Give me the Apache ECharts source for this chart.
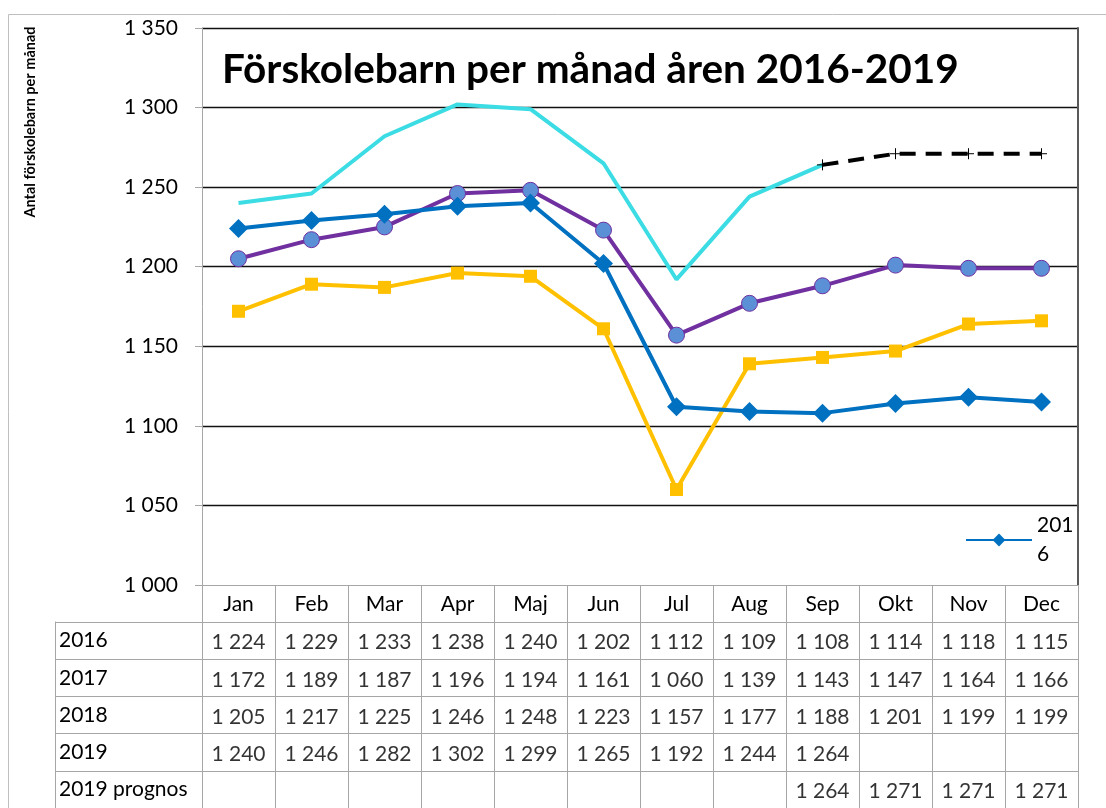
<!DOCTYPE html>
<html><head><meta charset="utf-8">
<script src="https://cdn.jsdelivr.net/npm/echarts@6/dist/echarts.min.js"></script>
<style>html,body{margin:0;padding:0;background:#fff}#c{width:1106px;height:808px}</style>
</head><body><div id="c"></div>
<script>
const months = ['Jan','Feb','Mar','Apr','Maj','Jun','Jul','Aug','Sep','Okt','Nov','Dec'];
const rowNames = ['2016','2017','2018','2019','2019 prognos'];
const s2016 = [1224,1229,1233,1238,1240,1202,1112,1109,1108,1114,1118,1115];
const s2017 = [1172,1189,1187,1196,1194,1161,1060,1139,1143,1147,1164,1166];
const s2018 = [1205,1217,1225,1246,1248,1223,1157,1177,1188,1201,1199,1199];
const s2019 = [1240,1246,1282,1302,1299,1265,1192,1244,1264,null,null,null];
const sProg = [null,null,null,null,null,null,null,null,1264,1271,1271,1271];
const yTicks = [1000,1050,1100,1150,1200,1250,1300,1350];
const titleText = 'Förskolebarn per månad åren 2016-2019';
const yTitle = 'Antal förskolebarn per månad';

const FONT = 'Lato';
const fmt = v => (v == null ? '' : Math.floor(v/1000) + ' ' + String(v % 1000).padStart(3,'0'));
const allRows = [s2016, s2017, s2018, s2019, sProg];
const cells = [];
allRows.forEach((arr, r) => arr.forEach((v, i) => { if (v != null) cells.push([i, r, fmt(v)]); }));

const GRID_L = 202, GRID_R = 28;
const chart = echarts.init(document.getElementById('c'));
chart.setOption({
  animation: false,
  textStyle: { fontFamily: FONT },
  title: { text: titleText, left: 217, top: 44,
    textStyle: { fontFamily: FONT, fontWeight: 'bold', fontSize: 40.5, color: '#000' } },
  legend: { data: ['2016'], left: 960, top: 506, itemWidth: 66, itemHeight: 16, itemGap: 4,
    formatter: () => '201\n6',
    textStyle: { fontFamily: FONT, fontSize: 21, color: '#000', lineHeight: 29 } },
  graphic: [
    { type: 'rect', shape: { x: 8.5, y: 14.5, width: 1200, height: 900 }, silent: true, z: -10,
      style: { fill: 'none', stroke: '#bfbfbf', lineWidth: 1 } },
    { type: 'text', x: 30, y: 122, rotation: Math.PI/2, silent: true,
      style: { text: yTitle, fontFamily: FONT, fontWeight: 'bold', fontSize: 14.5, fill: '#000',
        align: 'center', verticalAlign: 'middle' } }
  ],
  grid: [
    { left: GRID_L, right: GRID_R, top: 28, height: 557 },
    { left: GRID_L, right: GRID_R, top: 622, height: 190 }
  ],
  xAxis: [
    { type: 'category', gridIndex: 0, data: months, boundaryGap: true,
      axisLine: { show: true, lineStyle: { color: '#a6a6a6', width: 1 } },
      axisTick: { show: false }, axisLabel: { show: false }, splitLine: { show: false } },
    { type: 'category', gridIndex: 1, data: months, position: 'top', boundaryGap: true,
      axisLine: { show: true, lineStyle: { color: '#a6a6a6', width: 1 } },
      axisTick: { show: true, interval: 0, length: 37, lineStyle: { color: '#a6a6a6' } },
      axisLabel: { interval: 0, margin: 7, fontFamily: FONT, fontSize: 21, color: '#000' },
      splitLine: { show: true, interval: 0, lineStyle: { color: '#a6a6a6', width: 1 } } }
  ],
  yAxis: [
    { type: 'value', gridIndex: 0, min: 1000, max: 1350, interval: 50,
      axisLine: { show: true, lineStyle: { color: '#a6a6a6', width: 1 } },
      axisTick: { show: true, length: 7, lineStyle: { color: '#a6a6a6' } },
      axisLabel: { margin: 24, fontFamily: FONT, fontSize: 21, color: '#000', formatter: v => fmt(v) },
      splitLine: { show: true, showMinLine: false, lineStyle: { color: '#111', width: 1.3 } } },
    { type: 'value', gridIndex: 0, position: 'right', min: 1000, max: 1350, interval: 50,
      axisLine: { show: true, lineStyle: { color: '#595959', width: 2 } },
      axisTick: { show: false }, axisLabel: { show: false }, splitLine: { show: false } },
    { type: 'category', gridIndex: 1, data: rowNames, inverse: true, offset: 147,
      axisLine: { show: true, lineStyle: { color: '#a6a6a6', width: 1 } },
      axisTick: { show: true, inside: true, interval: 0, length: 147, lineStyle: { color: '#a6a6a6' } },
      axisLabel: { interval: 0, align: 'left', margin: -4, fontFamily: FONT, fontSize: 21, color: '#000',
        padding: [4, 0, 0, 0] },
      splitLine: { show: true, interval: 0, lineStyle: { color: '#a6a6a6', width: 1 } } }
  ],
  series: [
    { name: '2016', type: 'line', xAxisIndex: 0, yAxisIndex: 0, data: s2016,
      symbol: 'diamond', symbolSize: 19, lineStyle: { color: '#0070C0', width: 4 },
      itemStyle: { color: '#0070C0' }, z: 5 },
    { name: '2017', type: 'line', xAxisIndex: 0, yAxisIndex: 0, data: s2017,
      symbol: 'rect', symbolSize: 13, lineStyle: { color: '#FFC000', width: 4 },
      itemStyle: { color: '#FFC000' }, z: 4 },
    { name: '2018', type: 'line', xAxisIndex: 0, yAxisIndex: 0, data: s2018,
      symbol: 'circle', symbolSize: 16, lineStyle: { color: '#7030A0', width: 4 },
      itemStyle: { color: '#5B8FD6', borderColor: '#7030A0', borderWidth: 1 }, z: 4 },
    { name: '2019', type: 'line', xAxisIndex: 0, yAxisIndex: 0, data: s2019,
      symbol: 'none', lineStyle: { color: '#3CDCE4', width: 4 }, z: 3 },
    { name: '2019 prognos', type: 'line', xAxisIndex: 0, yAxisIndex: 0, data: sProg,
      symbol: 'path://M0,5L10,5M5,0L5,10', symbolSize: 11,
      lineStyle: { color: '#000', width: 4, type: [16, 10] },
      itemStyle: { color: 'none', borderColor: '#000', borderWidth: 1 }, z: 6 },
    { name: 'table', type: 'scatter', xAxisIndex: 1, yAxisIndex: 2, data: cells,
      symbolSize: 0, silent: true,
      label: { show: true, position: 'inside', offset: [0, 2], formatter: p => p.value[2],
        fontFamily: FONT, fontSize: 21, color: '#000' } }
  ]
});
</script></body></html>
